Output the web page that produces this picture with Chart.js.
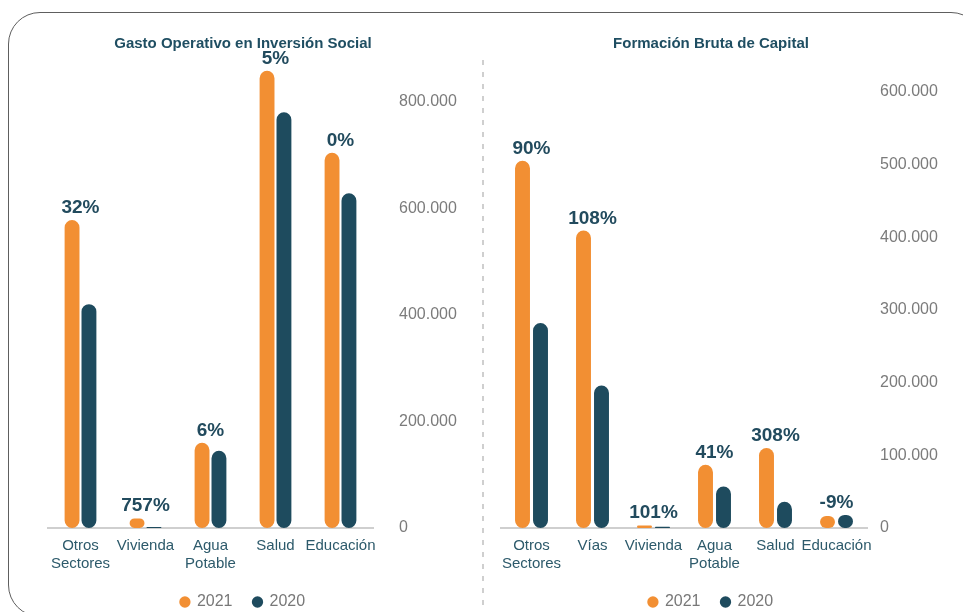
<!DOCTYPE html>
<html lang="es">
<head>
<meta charset="utf-8">
<title>Gasto Operativo y Formación Bruta de Capital</title>
<script src="https://cdn.jsdelivr.net/npm/chart.js@4.4.1/dist/chart.umd.min.js"></script>
<style>
    html, body { margin: 0; padding: 0; background: #fff; }
    body { width: 963px; height: 612px; position: relative; overflow: hidden; }
    .marco {
        position: absolute; left: 8px; top: 12px; width: 975px; height: 605px;
        border: 1.2px solid #5e5e5e; border-radius: 32px; box-sizing: border-box;
    }
    .divisor {
        position: absolute; left: 482px; top: 60px; width: 1.5px; height: 560px;
        background: repeating-linear-gradient(to bottom, #cfcfcf 0 5px, transparent 5px 12px);
    }
    canvas { position: absolute; top: 0; }
    #chartGasto { left: 0; }
    #chartFbk { left: 484px; }
</style>
</head>
<body>
<div class="marco"></div>
<div class="divisor"></div>
<canvas id="chartGasto" width="482" height="620"></canvas>
<canvas id="chartFbk" width="479" height="620"></canvas>

<script>
// Gasto operativo en inversión social
const gastoCategorias = [['Otros', 'Sectores'], 'Vivienda', ['Agua', 'Potable'], 'Salud', 'Educación'];
const gasto2021 = [578000, 18000, 160000, 858000, 704000];
const gasto2020 = [420000, 2100, 145000, 780000, 628000];
const gastoVariacion = ['32%', '757%', '6%', '5%', '0%'];
const gastoTicks = [0, 200000, 400000, 600000, 800000];

// Formación bruta de capital
const fbkCategorias = [['Otros', 'Sectores'], 'Vías', 'Vivienda', ['Agua', 'Potable'], 'Salud', 'Educación'];
const fbk2021 = [505000, 409000, 3500, 87000, 110000, 16500];
const fbk2020 = [282000, 196000, 1700, 57000, 36000, 18000];
const fbkVariacion = ['90%', '108%', '101%', '41%', '308%', '-9%'];
const fbkTicks = [0, 100000, 200000, 300000, 400000, 500000, 600000];

const NARANJA = '#F28F33';
const AZUL = '#1E4B5E';
const FUENTE = '"Liberation Sans", Arial, Helvetica, sans-serif';

function formatoMiles(v) {
    return v.toString().replace(/\B(?=(\d{3})+(?!\d))/g, '.');
}

// etiquetas de variación encima de cada grupo de barras
const etiquetasVariacion = {
    id: 'etiquetasVariacion',
    afterDatasetsDraw(chart, args, opts) {
        const ctx = chart.ctx;
        const m0 = chart.getDatasetMeta(0);
        const m1 = chart.getDatasetMeta(1);
        ctx.save();
        ctx.font = 'bold 19px ' + FUENTE;
        ctx.fillStyle = '#224B5E';
        ctx.textAlign = 'center';
        ctx.textBaseline = 'alphabetic';
        opts.textos.forEach((t, i) => {
            const x = chart.scales.x.getPixelForValue(i);
            const y = Math.min(m0.data[i].y, m1.data[i].y) - 7;
            ctx.fillText(t, x, y);
        });
        ctx.restore();
    }
};

// el eje Y reserva menos ancho del que ocupan sus rótulos; se deja dibujar hasta el borde
const ejeHastaBorde = {
    id: 'ejeHastaBorde',
    afterLayout(chart) {
        chart.scales.y.right = chart.width;
    }
};

function crearGrafico(id, titulo, categorias, v2021, v2020, variacion, ticks, maxY, cfg) {
    return new Chart(document.getElementById(id), {
        type: 'bar',
        data: {
            labels: categorias,
            datasets: [
                {
                    label: '2021',
                    data: v2021,
                    backgroundColor: NARANJA,
                    borderRadius: 20,
                    borderSkipped: false
                },
                {
                    label: '2020',
                    data: v2020,
                    backgroundColor: AZUL,
                    borderRadius: 20,
                    borderSkipped: false
                }
            ]
        },
        options: {
            responsive: false,
            animation: false,
            categoryPercentage: cfg.catPct,
            barPercentage: cfg.barPct,
            layout: {
                padding: { left: cfg.padL, right: cfg.padR, top: 0, bottom: 0 }
            },
            plugins: {
                title: {
                    display: true,
                    text: titulo,
                    color: '#1F4E62',
                    font: { family: FUENTE, size: 15, weight: 'bold' },
                    padding: { top: 35, bottom: 6 }
                },
                legend: {
                    position: 'bottom',
                    labels: {
                        usePointStyle: true,
                        pointStyle: 'circle',
                        boxWidth: 8,
                        boxHeight: 8,
                        padding: 21,
                        color: '#787878',
                        font: { family: FUENTE, size: 16 }
                    }
                },
                tooltip: { enabled: false },
                etiquetasVariacion: { textos: variacion }
            },
            scales: {
                x: {
                    grid: { display: false, drawTicks: false },
                    border: { color: '#CFCFCF', width: 2 },
                    ticks: {
                        color: '#2D5A6B',
                        padding: 9,
                        maxRotation: 0,
                        autoSkip: false,
                        font: { family: FUENTE, size: 15 }
                    },
                    afterFit: (axis) => {
                        axis.height -= 9;
                    }
                },
                y: {
                    position: 'right',
                    min: 0,
                    max: maxY,
                    grid: { display: false, drawTicks: false },
                    border: { display: false },
                    afterBuildTicks: (axis) => {
                        axis.ticks = ticks.map(v => ({ value: v }));
                    },
                    afterFit: (axis) => {
                        axis.width = cfg.axisW;
                    },
                    ticks: {
                        color: '#7B7B7B',
                        padding: cfg.tickPad,
                        font: { family: FUENTE, size: 16 },
                        callback: (v) => formatoMiles(v)
                    }
                }
            }
        },
        plugins: [etiquetasVariacion, ejeHastaBorde]
    });
}

document.addEventListener('DOMContentLoaded', function() {
    crearGrafico('chartGasto', 'Gasto Operativo en Inversión Social',
        gastoCategorias, gasto2021, gasto2020, gastoVariacion, gastoTicks, 880000,
        { catPct: 0.52, barPct: 0.88, padL: 48, padR: 44, axisW: 65, tickPad: 26 });

    crearGrafico('chartFbk', 'Formación Bruta de Capital',
        fbkCategorias, fbk2021, fbk2020, fbkVariacion, fbkTicks, 645000,
        { catPct: 0.59, barPct: 0.83, padL: 17, padR: 42, axisW: 54, tickPad: 13 });
});
</script>
</body>
</html>
